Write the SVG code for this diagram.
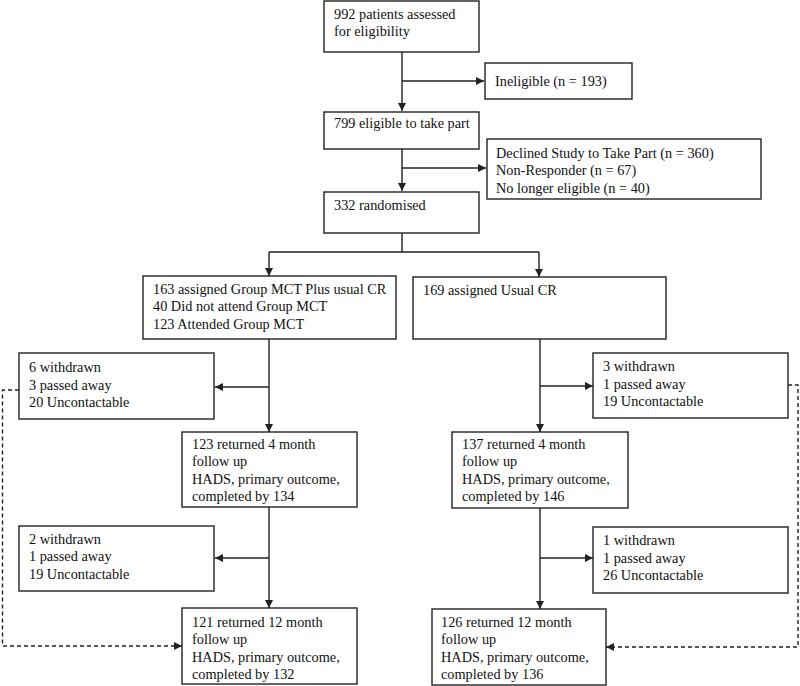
<svg xmlns="http://www.w3.org/2000/svg" width="800" height="686" viewBox="0 0 800 686">
<defs>
<marker id="ah" viewBox="0 0 10 10" refX="10" refY="5" markerWidth="8" markerHeight="8" markerUnits="userSpaceOnUse" orient="auto">
<path d="M0,0 L10,5 L0,10 z" fill="#222"/>
</marker>
</defs>
<style>
.box{fill:#fff;stroke:#222;stroke-width:1.4}
.t{font-family:"Liberation Serif","Times New Roman",serif;font-size:14.3px;fill:#111}
.c{fill:none;stroke:#222;stroke-width:1.4}
.d{fill:none;stroke:#222;stroke-width:1.4;stroke-dasharray:4,3}
</style>
<rect width="800" height="686" fill="#fff"/>
<g id="connectors">
<path class="c" d="M402,52 V111" marker-end="url(#ah)"/>
<path class="c" d="M402,81 H484" marker-end="url(#ah)"/>
<path class="c" d="M402,149 V191" marker-end="url(#ah)"/>
<path class="c" d="M402,168 H486" marker-end="url(#ah)"/>
<path class="c" d="M402,233 V252 M269,252 H539"/>
<path class="c" d="M269,252 V276" marker-end="url(#ah)"/>
<path class="c" d="M539,252 V277" marker-end="url(#ah)"/>
<path class="c" d="M269,339 V432" marker-end="url(#ah)"/>
<path class="c" d="M269,387 H215" marker-end="url(#ah)"/>
<path class="c" d="M540,339 V432" marker-end="url(#ah)"/>
<path class="c" d="M540,386 H593" marker-end="url(#ah)"/>
<path class="c" d="M269,507 V608" marker-end="url(#ah)"/>
<path class="c" d="M269,558 H215" marker-end="url(#ah)"/>
<path class="c" d="M540,508 V609" marker-end="url(#ah)"/>
<path class="c" d="M540,558 H593" marker-end="url(#ah)"/>
<path class="d" d="M19,390 H2.5 V646 H182" marker-end="url(#ah)"/>
<path class="d" d="M788,385 H798 V647 H606" marker-end="url(#ah)"/>
</g>
<g id="n1"><rect class="box" x="324" y="1" width="155" height="51"/>
<text class="t" x="334" y="19">992 patients assessed</text><text class="t" x="334" y="36">for eligibility</text></g>
<g id="n2"><rect class="box" x="485" y="63" width="147" height="36"/>
<text class="t" x="495" y="86">Ineligible (n = 193)</text></g>
<g id="n3"><rect class="box" x="324" y="112" width="155" height="37"/>
<text class="t" x="334" y="128">799 eligible to take part</text></g>
<g id="n4"><rect class="box" x="487" y="139" width="274" height="60"/>
<text class="t" x="496" y="158">Declined Study to Take Part (n = 360)</text>
<text class="t" x="496" y="175">Non-Responder (n = 67)</text>
<text class="t" x="496" y="193">No longer eligible (n = 40)</text></g>
<g id="n5"><rect class="box" x="324" y="192" width="155" height="41"/>
<text class="t" x="334" y="210">332 randomised</text></g>
<g id="n6"><rect class="box" x="143" y="276" width="253" height="63"/>
<text class="t" x="153" y="294">163 assigned Group MCT Plus usual CR</text>
<text class="t" x="153" y="311">40 Did not attend Group MCT</text>
<text class="t" x="153" y="329">123 Attended Group MCT</text></g>
<g id="n7"><rect class="box" x="413" y="277" width="253" height="62"/>
<text class="t" x="423" y="295">169 assigned Usual CR</text></g>
<g id="n8"><rect class="box" x="19" y="353" width="195" height="66"/>
<text class="t" x="29" y="372">6 withdrawn</text>
<text class="t" x="29" y="390">3 passed away</text>
<text class="t" x="29" y="407">20 Uncontactable</text></g>
<g id="n9"><rect class="box" x="593" y="353" width="195" height="65"/>
<text class="t" x="603" y="371">3 withdrawn</text>
<text class="t" x="603" y="389">1 passed away</text>
<text class="t" x="603" y="406">19 Uncontactable</text></g>
<g id="n10"><rect class="box" x="182" y="432" width="175" height="75"/>
<text class="t" x="192" y="449">123 returned 4 month</text>
<text class="t" x="192" y="466">follow up</text>
<text class="t" x="192" y="484">HADS, primary outcome,</text>
<text class="t" x="192" y="501">completed by 134</text></g>
<g id="n11"><rect class="box" x="452" y="432" width="176" height="76"/>
<text class="t" x="462" y="449">137 returned 4 month</text>
<text class="t" x="462" y="466">follow up</text>
<text class="t" x="462" y="484">HADS, primary outcome,</text>
<text class="t" x="462" y="501">completed by 146</text></g>
<g id="n12"><rect class="box" x="19" y="526" width="195" height="65"/>
<text class="t" x="29" y="544">2 withdrawn</text>
<text class="t" x="29" y="561">1 passed away</text>
<text class="t" x="29" y="579">19 Uncontactable</text></g>
<g id="n13"><rect class="box" x="593" y="527" width="195" height="66"/>
<text class="t" x="603" y="545">1 withdrawn</text>
<text class="t" x="603" y="563">1 passed away</text>
<text class="t" x="603" y="580">26 Uncontactable</text></g>
<g id="n14"><rect class="box" x="182" y="608" width="175" height="76"/>
<text class="t" x="192" y="627">121 returned 12 month</text>
<text class="t" x="192" y="644">follow up</text>
<text class="t" x="192" y="662">HADS, primary outcome,</text>
<text class="t" x="192" y="679">completed by 132</text></g>
<g id="n15"><rect class="box" x="432" y="609" width="174" height="76"/>
<text class="t" x="441" y="627">126 returned 12 month</text>
<text class="t" x="441" y="644">follow up</text>
<text class="t" x="441" y="662">HADS, primary outcome,</text>
<text class="t" x="441" y="679">completed by 136</text></g>
</svg>
